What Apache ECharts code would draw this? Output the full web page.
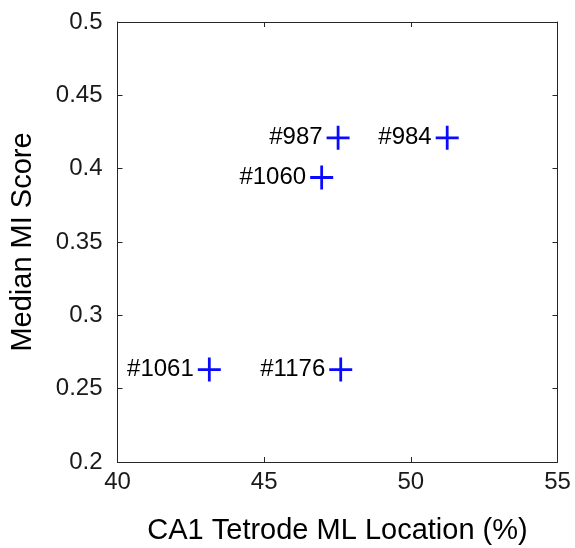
<!DOCTYPE html>
<html>
<head>
<meta charset="utf-8">
<script src="https://cdn.jsdelivr.net/npm/echarts@6/dist/echarts.min.js"></script>
<style>
  html, body { margin: 0; padding: 0; background: #fff; }
  #chart { width: 575px; height: 548px; }
</style>
</head>
<body>
<div id="chart"></div>
<script>
// animal ids and their values
var animals = ['#987', '#984', '#1060', '#1061', '#1176']
var mlLocation = [47.52, 51.24, 46.96, 43.13, 47.61]
var miScore = [0.421, 0.421, 0.394, 0.263, 0.263]

var xTicks = [40, 45, 50, 55]
var yTicks = [0.2, 0.25, 0.3, 0.35, 0.4, 0.45, 0.5]

var font = 'Arial, "Liberation Sans", Helvetica, sans-serif'
var axisColor = '#262626'

var points = animals.map(function (name, i) {
  return { name: name, value: [mlLocation[i], miScore[i]] }
})

var plusPath = 'path://M0,8.8H20V11.2H0Z M8.8,0H11.2V20H8.8Z'

var myChart = echarts.init(document.getElementById('chart'))

function axisBase () {
  return {
    type: 'value',
    axisLine: { show: true, lineStyle: { color: axisColor, width: 1 } },
    axisTick: { show: true, inside: true, length: 5, lineStyle: { color: axisColor } },
    splitLine: { show: false }
  }
}

var xBottom = Object.assign(axisBase(), {
  position: 'bottom',
  min: xTicks[0],
  max: xTicks[xTicks.length - 1],
  interval: 5,
  name: 'CA1 Tetrode ML Location (%)',
  nameLocation: 'middle',
  nameGap: 54,
  nameTextStyle: { fontFamily: font, fontSize: 29, color: '#000' },
  axisLabel: { margin: 8, fontFamily: font, fontSize: 24, color: '#1a1a1a' }
})
var xTop = Object.assign(axisBase(), {
  position: 'top',
  min: xTicks[0],
  max: xTicks[xTicks.length - 1],
  interval: 5,
  axisLabel: { show: false }
})
var yLeft = Object.assign(axisBase(), {
  position: 'left',
  min: yTicks[0],
  max: yTicks[yTicks.length - 1],
  interval: 0.05,
  name: 'Median MI Score',
  nameLocation: 'middle',
  nameGap: 80,
  nameTextStyle: { fontFamily: font, fontSize: 29, color: '#000' },
  axisLabel: {
    margin: 15,
    fontFamily: font,
    fontSize: 24,
    color: '#1a1a1a',
    formatter: function (v) { return String(Math.round(v * 100) / 100) }
  }
})
var yRight = Object.assign(axisBase(), {
  position: 'right',
  min: yTicks[0],
  max: yTicks[yTicks.length - 1],
  interval: 0.05,
  axisLabel: { show: false }
})

myChart.setOption({
  animation: false,
  backgroundColor: '#fff',
  grid: { left: 117.5, right: 17.5, top: 22, bottom: 86, outerBoundsMode: 'none', containLabel: false },
  xAxis: [xBottom, xTop],
  yAxis: [yLeft, yRight],
  series: [
    {
      type: 'scatter',
      data: points,
      symbol: plusPath,
      symbolSize: [23, 24],
      itemStyle: { color: '#0a0aff', opacity: 1 },
      label: {
        show: true,
        position: 'left',
        distance: 4,
        formatter: '{b}',
        fontFamily: font,
        fontSize: 24,
        color: '#000'
      }
    }
  ]
})
</script>
</body>
</html>
